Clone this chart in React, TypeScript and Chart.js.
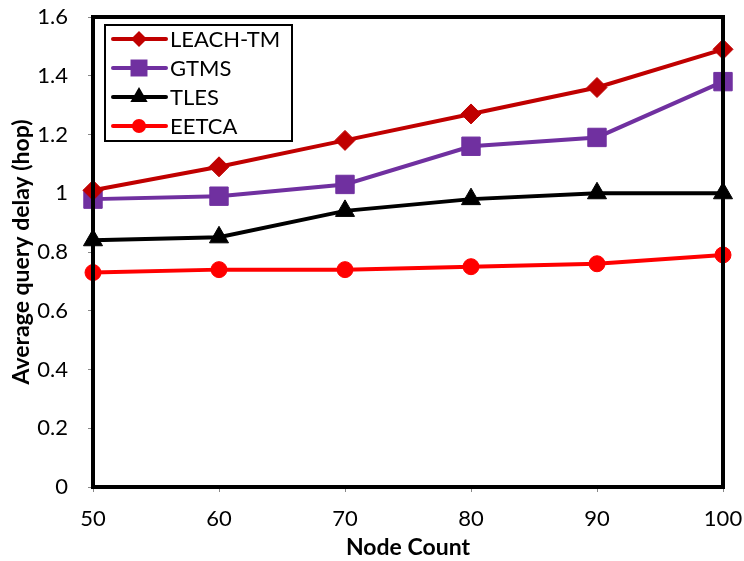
import React, { useEffect, useRef } from "react";
import { Chart, registerables } from "chart.js";

Chart.register(...registerables);

const nodeCounts = [50, 60, 70, 80, 90, 100];
const leachTM = [1.01, 1.09, 1.18, 1.27, 1.36, 1.49];
const gtms = [0.98, 0.99, 1.03, 1.16, 1.19, 1.38];
const tles = [0.84, 0.85, 0.94, 0.98, 1.0, 1.0];
const eetca = [0.73, 0.74, 0.74, 0.75, 0.76, 0.79];
const seriesNames = ["LEACH-TM", "GTMS", "TLES", "EETCA"];
const FONT = "Lato, 'Open Sans', sans-serif";

function drawMarker(ctx: CanvasRenderingContext2D, style: string, r: number, x: number, y: number, color: string) {
  ctx.save();
  ctx.fillStyle = color;
  ctx.beginPath();
  if (style === "rectRot") {
    ctx.moveTo(x, y - r);
    ctx.lineTo(x + r, y);
    ctx.lineTo(x, y + r);
    ctx.lineTo(x - r, y);
    ctx.closePath();
  } else if (style === "rect") {
    const s = r * Math.SQRT1_2;
    ctx.rect(x - s, y - s, 2 * s, 2 * s);
  } else if (style === "triangle") {
    const w = r * Math.sqrt(3);
    ctx.moveTo(x, y - r);
    ctx.lineTo(x + w / 2, y + r / 2);
    ctx.lineTo(x - w / 2, y + r / 2);
    ctx.closePath();
  } else {
    ctx.arc(x, y, r, 0, Math.PI * 2);
  }
  ctx.fill();
  ctx.restore();
}

const boxPlugin = {
  id: "boxPlugin",
  afterDatasetsDraw(chart: any) {
    const { ctx, chartArea } = chart;
    ctx.save();
    ctx.strokeStyle = "#000";
    ctx.lineWidth = 4;
    ctx.strokeRect(chartArea.left, chartArea.top, chartArea.right - chartArea.left, chartArea.bottom - chartArea.top);
    ctx.restore();
  },
  afterDraw(chart: any) {
    const { ctx } = chart;
    ctx.save();
    const bx = 105, by = 25, bw = 187, bh = 116;
    ctx.fillStyle = "#fff";
    ctx.fillRect(bx, by, bw, bh);
    ctx.strokeStyle = "#000";
    ctx.lineWidth = 2;
    ctx.strokeRect(bx, by, bw, bh);
    chart.data.datasets.forEach((ds: any, i: number) => {
      const y = 39 + i * 29;
      ctx.strokeStyle = ds.borderColor;
      ctx.lineWidth = 4;
      ctx.lineCap = "round";
      ctx.beginPath();
      ctx.moveTo(113, y);
      ctx.lineTo(166, y);
      ctx.stroke();
      drawMarker(ctx, ds.pointStyle, ds.legendRadius, 139, y, ds.borderColor);
      ctx.fillStyle = "#000";
      ctx.font = `22px ${FONT}`;
      ctx.textBaseline = "middle";
      ctx.textAlign = "left";
      ctx.fillText(ds.label, 170, y + 1);
    });
    ctx.restore();
  },
};

function mk(label: string, data: number[], color: string, style: string, r: number, lr: number) {
  return {
    label,
    data: data.map((v, i) => ({ x: nodeCounts[i], y: v })),
    borderColor: color,
    backgroundColor: color,
    pointBackgroundColor: color,
    pointBorderColor: color,
    borderWidth: 4,
    pointStyle: style,
    pointRadius: r,
    pointBorderWidth: 1,
    legendRadius: lr,
    tension: 0,
  };
}

export default function App() {
  const ref = useRef<HTMLCanvasElement>(null);
  useEffect(() => {
    const ctx = ref.current!;
    const chart = new Chart(ctx, {
      type: "line",
      data: {
        datasets: [
          mk(seriesNames[0], leachTM, "#C00000", "rectRot", 10, 8),
          mk(seriesNames[1], gtms, "#7030A0", "rect", 13, 12),
          mk(seriesNames[2], tles, "#000000", "triangle", 11, 10),
          mk(seriesNames[3], eetca, "#FF0000", "circle", 8, 7),
        ],
      },
      options: {
        animation: false,
        responsive: false,
        clip: false,
        layout: { padding: { top: 17, right: 21, left: 0, bottom: 0 } },
        plugins: { legend: { display: false }, tooltip: { enabled: false } },
        scales: {
          x: {
            type: "linear",
            min: 50,
            max: 100,
            afterFit: (s: any) => { s.height = 74; s.paddingLeft = 0; s.paddingRight = 0; },
            ticks: { stepSize: 10, color: "#000", font: { size: 22, family: FONT }, padding: 14 },
            grid: { display: true, drawOnChartArea: false, drawTicks: true, tickLength: 5, color: "#888" },
            border: { display: false },
            title: { display: true, text: "Node Count", color: "#000", font: { size: 23, weight: "bold", family: FONT }, padding: { top: 0, bottom: 0 } },
          },
          y: {
            min: 0,
            max: 1.6,
            afterFit: (s: any) => { s.width = 93; s.paddingTop = 0; s.paddingBottom = 0; },
            ticks: { stepSize: 0.2, color: "#000", font: { size: 22, family: FONT }, padding: 20,
              callback: (v: any) => String(Math.round(Number(v) * 10) / 10) },
            grid: { display: true, drawOnChartArea: false, drawTicks: true, tickLength: 5, color: "#888" },
            border: { display: false },
            title: { display: true, text: "Average query delay (hop)", color: "#000", font: { size: 23, weight: "bold", family: FONT }, padding: { top: 8, bottom: 0 } },
          },
        },
      } as any,
      plugins: [boxPlugin],
    });
    return () => chart.destroy();
  }, []);
  return (
    <div style={{ position: "fixed", left: 0, top: 0, width: 744, height: 561, background: "#fff" }}>
      <canvas ref={ref} width={744} height={561} style={{ width: 744, height: 561 }} />
    </div>
  );
}
